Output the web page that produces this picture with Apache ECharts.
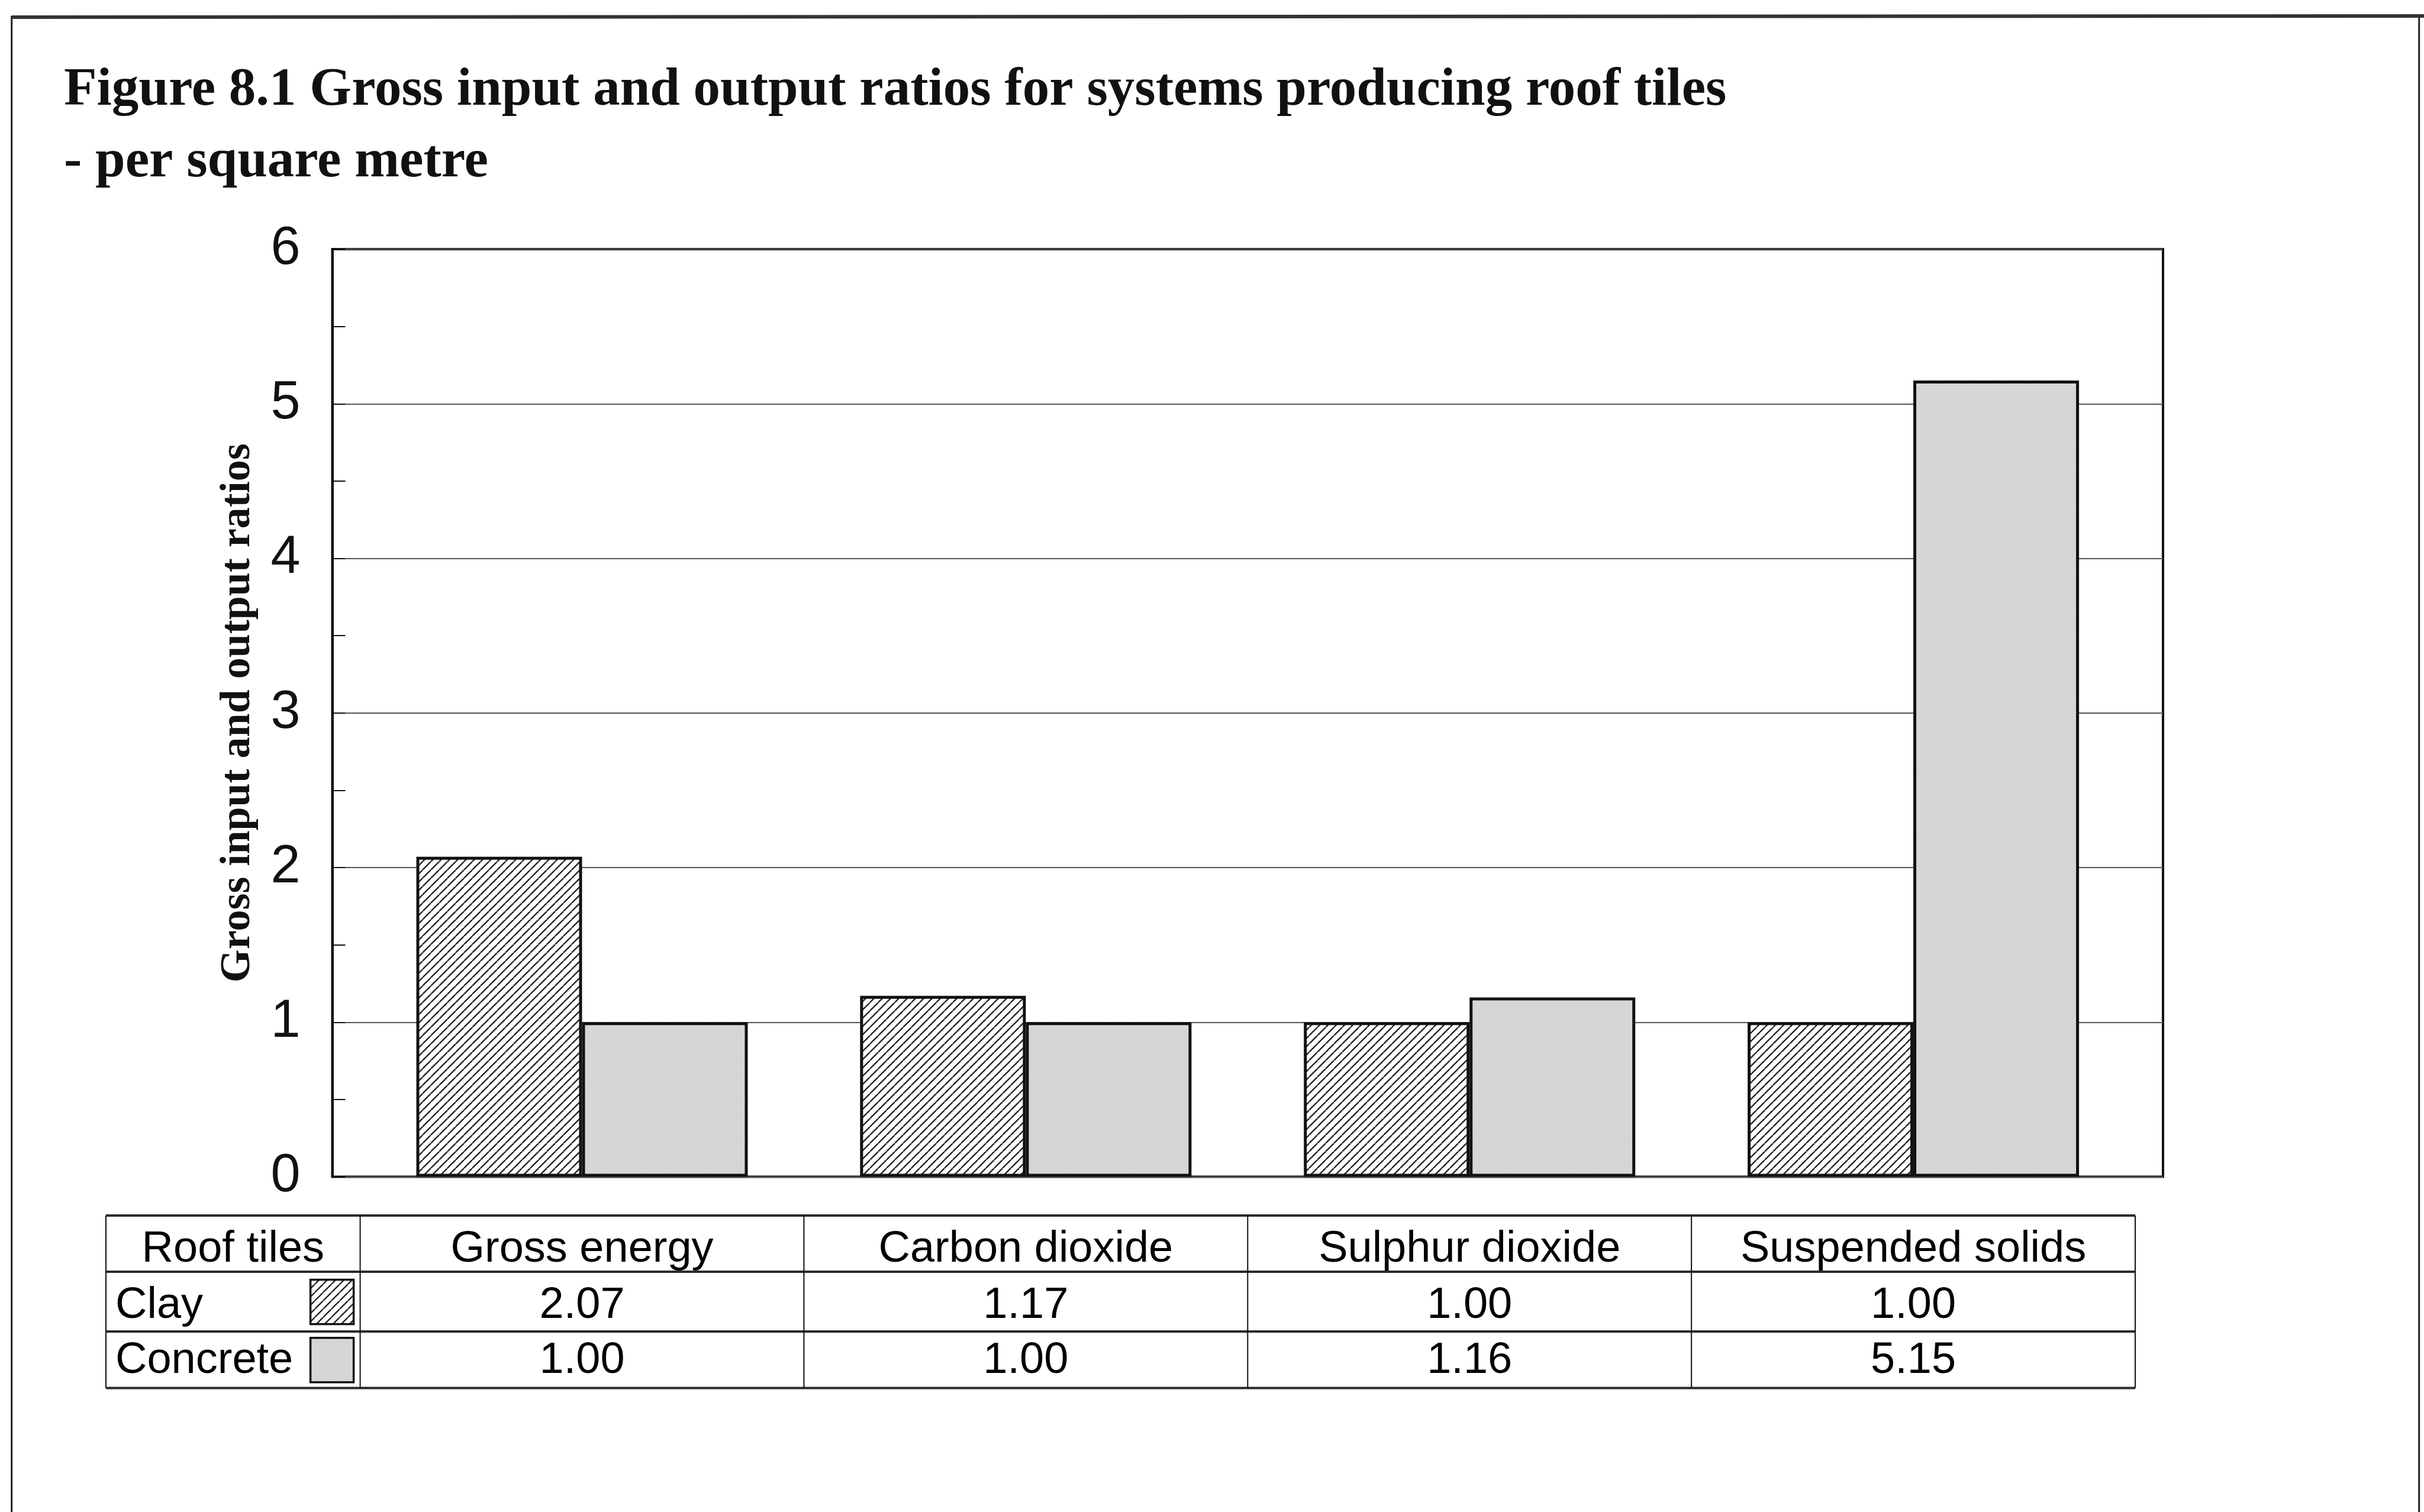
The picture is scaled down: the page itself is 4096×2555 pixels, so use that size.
<!DOCTYPE html>
<html>
<head>
<meta charset="utf-8">
<script src="https://cdn.jsdelivr.net/npm/echarts@6/dist/echarts.min.js"></script>
<style>
html,body{margin:0;padding:0;background:#fff;}
#chart{width:4096px;height:2555px;}
</style>
</head>
<body>
<div id="chart"></div>
<script>
// ---- data ----
const categories = ['Gross energy', 'Carbon dioxide', 'Sulphur dioxide', 'Suspended solids'];
const seriesNames = ['Clay', 'Concrete'];
const clay = [2.07, 1.17, 1.00, 1.00];
const concrete = [1.00, 1.00, 1.16, 5.15];
const yTicks = [0, 1, 2, 3, 4, 5, 6];
const tableCorner = 'Roof tiles';
const titleLines = ['Figure 8.1 Gross input and output ratios for systems producing roof tiles', '- per square metre'];
const yAxisName = 'Gross input and output ratios';

// ---- layout (px in the 4096x2555 window) ----
const W = 4096, H = 2555;
const frameGrid = {left: 561.5, top: 421, right: 3655, bottom: 1988.5};
const barGrid = {left: 608.6, right: 3608};
const table = {left: 179, rows: [2054, 2149, 2250, 2345.5], textY: [2112, 2207, 2300]};
const SERIF = "'Liberation Serif', 'Times New Roman', serif";
const SANS = "'Liberation Sans', Arial, sans-serif";

function hatchCanvas(step, lw) {
  const c = document.createElement('canvas');
  c.width = step; c.height = step;
  const g = c.getContext('2d');
  g.fillStyle = '#ffffff'; g.fillRect(0, 0, step, step);
  g.strokeStyle = '#222'; g.lineWidth = lw;
  g.beginPath();
  for (let k = -1; k <= 1; k++) {
    g.moveTo(k * step, step);
    g.lineTo(k * step + step, 0);
  }
  g.stroke();
  return c;
}
function stippleCanvas() {
  const c = document.createElement('canvas');
  c.width = 4; c.height = 4;
  const g = c.getContext('2d');
  g.fillStyle = '#dedede'; g.fillRect(0, 0, 4, 4);
  g.fillStyle = '#ababab';
  g.fillRect(0, 0, 1, 1); g.fillRect(2, 2, 1, 1);
  g.fillStyle = '#cfcfcf';
  g.fillRect(2, 0, 1, 1); g.fillRect(0, 2, 1, 1);
  return c;
}
const clayFill = {image: hatchCanvas(14, 2.3), repeat: 'repeat'};
const concreteFill = {image: stippleCanvas(), repeat: 'repeat'};
const fills = [clayFill, concreteFill];

const chart = echarts.init(document.getElementById('chart'), null, {renderer: 'canvas', width: W, height: H});

// ---- table graphics ----
const colW = (barGrid.right - barGrid.left) / categories.length;
const graphics = [];
// outer frame
graphics.push({type: 'rect', shape: {x: 19.7, y: 28.2, width: 4068, height: 2560}, style: {fill: null, stroke: '#222', lineWidth: 3}, z: 1});
graphics.push({type: 'line', shape: {x1: 19.7, y1: 29, x2: 4096, y2: 27}, style: {stroke: '#333', lineWidth: 6}, z: 1});
// titles
graphics.push({type: 'text', x: 108, y: 153.3, style: {text: titleLines[0], font: 'bold 91px ' + SERIF, fill: '#111', verticalAlign: 'middle', align: 'left'}});
graphics.push({type: 'text', x: 108, y: 274.9, style: {text: titleLines[1], font: 'bold 91px ' + SERIF, fill: '#111', verticalAlign: 'middle', align: 'left'}});
// y axis name
graphics.push({type: 'text', x: 402, y: (frameGrid.top + frameGrid.bottom) / 2, rotation: Math.PI / 2,
  style: {text: yAxisName, font: 'bold 72px ' + SERIF, fill: '#111', align: 'center', verticalAlign: 'middle'}});
// table horizontal lines
table.rows.forEach(function (y) {
  graphics.push({type: 'line', shape: {x1: table.left, y1: y, x2: barGrid.right, y2: y}, style: {stroke: '#2a2a2a', lineWidth: 4}});
});
// table vertical lines
const vx = [table.left];
for (let i = 0; i <= categories.length; i++) vx.push(barGrid.left + i * colW);
vx.forEach(function (x) {
  graphics.push({type: 'line', shape: {x1: x, y1: table.rows[0], x2: x, y2: table.rows[3]}, style: {stroke: '#111', lineWidth: 2}});
});
const tfont = '74px ' + SANS;
// header
graphics.push({type: 'text', x: (table.left + barGrid.left) / 2, y: table.textY[0], style: {text: tableCorner, font: tfont, fill: '#000', align: 'center', verticalAlign: 'middle'}});
categories.forEach(function (c, i) {
  graphics.push({type: 'text', x: barGrid.left + (i + 0.5) * colW, y: table.textY[0], style: {text: c, font: tfont, fill: '#000', align: 'center', verticalAlign: 'middle'}});
});
[clay, concrete].forEach(function (arr, r) {
  graphics.push({type: 'text', x: 195, y: table.textY[r + 1], style: {text: seriesNames[r], font: tfont, fill: '#000', align: 'left', verticalAlign: 'middle'}});
  const rowMid = (table.rows[r + 1] + table.rows[r + 2]) / 2;
  graphics.push({type: 'rect', shape: {x: barGrid.left - 84, y: rowMid - 37, width: 73, height: 75}, style: {fill: fills[r], stroke: '#111', lineWidth: 3.5}});
  arr.forEach(function (v, i) {
    graphics.push({type: 'text', x: barGrid.left + (i + 0.5) * colW, y: table.textY[r + 1], style: {text: v.toFixed(2), font: tfont, fill: '#000', align: 'center', verticalAlign: 'middle'}});
  });
});

const option = {
  animation: false,
  backgroundColor: '#ffffff',
  grid: [
    {left: frameGrid.left, top: frameGrid.top, width: frameGrid.right - frameGrid.left, height: frameGrid.bottom - frameGrid.top,
      show: true, borderColor: '#111', borderWidth: 4, backgroundColor: 'transparent', containLabel: false, outerBoundsMode: 'none'},
    {left: barGrid.left, top: frameGrid.top, width: barGrid.right - barGrid.left, height: frameGrid.bottom - frameGrid.top,
      containLabel: false, outerBoundsMode: 'none'}
  ],
  xAxis: [
    {type: 'category', gridIndex: 0, data: categories, show: false},
    {type: 'category', gridIndex: 1, data: categories, show: false}
  ],
  yAxis: [
    {type: 'value', gridIndex: 0, min: yTicks[0], max: yTicks[yTicks.length - 1], interval: yTicks[1] - yTicks[0],
      axisLine: {show: true, lineStyle: {color: '#111', width: 4}},
      axisTick: {show: true, inside: true, length: 22, lineStyle: {color: '#111', width: 2}},
      minorTick: {show: true, splitNumber: 2, length: 22, lineStyle: {color: '#111', width: 2}},
      splitLine: {show: true, lineStyle: {color: '#555', width: 2}},
      axisLabel: {show: true, margin: 54, fontSize: 90, fontFamily: SANS, color: '#111',
        formatter: function (v) { return yTicks.indexOf(v) >= 0 ? String(v) : ''; }}
    },
    {type: 'value', gridIndex: 1, min: yTicks[0], max: yTicks[yTicks.length - 1], interval: yTicks[1] - yTicks[0], show: false,
      splitLine: {show: false}}
  ],
  series: [
    {name: seriesNames[0], type: 'bar', xAxisIndex: 1, yAxisIndex: 1, data: clay, barWidth: 280, barGap: '0%',
      itemStyle: {color: clayFill, borderColor: '#111', borderWidth: 5}, z: 3},
    {name: seriesNames[1], type: 'bar', xAxisIndex: 1, yAxisIndex: 1, data: concrete, barWidth: 280, barGap: '0%',
      itemStyle: {color: concreteFill, borderColor: '#111', borderWidth: 5}, z: 3}
  ],
  graphic: graphics
};
chart.setOption(option);
</script>
</body>
</html>
